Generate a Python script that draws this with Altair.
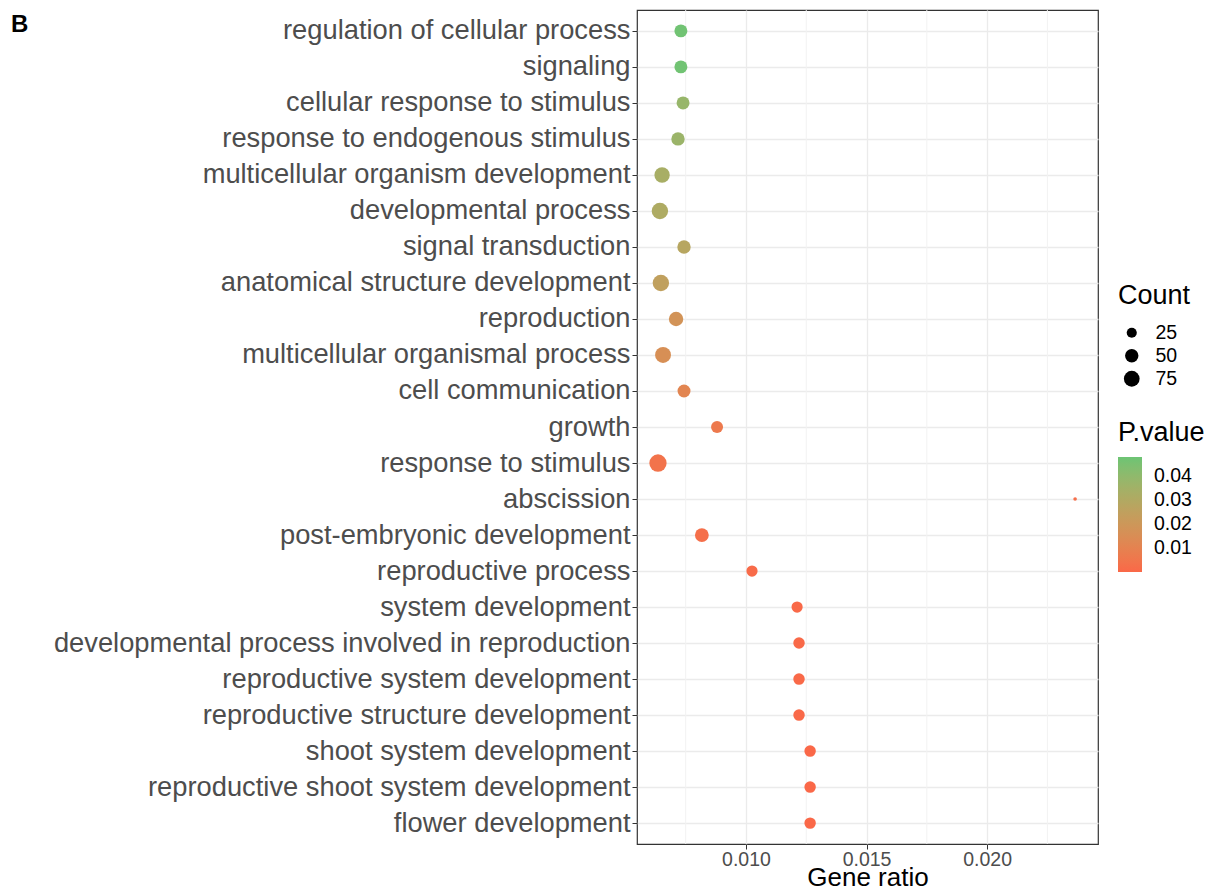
import altair as alt
import pandas as pd

terms = [
    "regulation of cellular process",
    "signaling",
    "cellular response to stimulus",
    "response to endogenous stimulus",
    "multicellular organism development",
    "developmental process",
    "signal transduction",
    "anatomical structure development",
    "reproduction",
    "multicellular organismal process",
    "cell communication",
    "growth",
    "response to stimulus",
    "abscission",
    "post-embryonic development",
    "reproductive process",
    "system development",
    "developmental process involved in reproduction",
    "reproductive system development",
    "reproductive structure development",
    "shoot system development",
    "reproductive shoot system development",
    "flower development",
]
gene_ratio = [0.0073, 0.0073, 0.00739, 0.00718, 0.00652, 0.00643, 0.00743, 0.00647,
              0.0071, 0.00656, 0.00743, 0.0088, 0.00635, 0.02365, 0.00817, 0.01025,
              0.01212, 0.0122, 0.0122, 0.0122, 0.01266, 0.01266, 0.01266]
counts = [46, 46, 46, 50, 71, 83, 50, 83, 60, 77, 46, 38, 95, 2, 54, 32,
          32, 34, 34, 34, 34, 34, 34]
p_values = [0.047, 0.047, 0.038, 0.037, 0.033, 0.031, 0.028, 0.025, 0.018, 0.016,
            0.011, 0.006, 0.004, 0.002, 0.0025, 0.001, 0.0004, 0.0003, 0.0003,
            0.0003, 0.0001, 0.0001, 0.00005]
x_minor = [0.0075, 0.0125, 0.0175, 0.0225]
x_ticks = [0.010, 0.015, 0.020]
count_breaks = [25, 50, 75]
p_breaks = [0.01, 0.02, 0.03, 0.04]
panel = ["B"]

df = pd.DataFrame({"term": terms, "GeneRatio": gene_ratio, "Count": counts, "Pvalue": p_values})
minor_df = pd.DataFrame({"x": x_minor})
panel_df = pd.DataFrame({"label": panel})

FONT = "Liberation Sans"
xdom = [0.00548, 0.0246]

xscale = alt.Scale(domain=xdom, nice=False, zero=False)

minor = alt.Chart(minor_df).mark_rule(color="#F2F2F2", strokeWidth=1).encode(
    x=alt.X("x:Q", scale=xscale)
)

points = alt.Chart(df).mark_circle(opacity=1).encode(
    x=alt.X("GeneRatio:Q", scale=xscale, title="Gene ratio",
            axis=alt.Axis(values=x_ticks, format=".3f", labelFontSize=19.5, labelColor="#4D4D4D",
                          titleFontSize=26, titleColor="black", titleFontWeight="normal",
                          titleY=41, titleBaseline="alphabetic",
                          tickColor="#333333", tickSize=5, domain=False,
                          gridColor="#EBEBEB", gridWidth=1.3, labelPadding=1)),
    y=alt.Y("term:N", sort=terms, title=None,
            scale=alt.Scale(type="point", padding=0.58),
            axis=alt.Axis(labelFontSize=27.3, labelColor="#4D4D4D", tickColor="#333333",
                          tickSize=5, domain=False, grid=True, gridColor="#EBEBEB",
                          gridWidth=1.3, labelPadding=2, labelLimit=800)),
    size=alt.Size("Count:Q",
                  scale=alt.Scale(type="pow", exponent=0.8, domain=[2, 95], range=[13, 300],
                                  zero=False),
                  legend=alt.Legend(values=count_breaks, orient="none", legendX=481, legendY=273,
                                    titleFontSize=27, titleFontWeight="normal", titleColor="black",
                                    labelFontSize=19.5, labelColor="black",
                                    symbolFillColor="black", symbolStrokeWidth=0,
                                    symbolType="circle", rowPadding=2, titlePadding=13,
                                    symbolOffset=4, labelOffset=14)),
    color=alt.Color("Pvalue:Q", title="P.value",
                    scale=alt.Scale(range=["#FA6848", "#6CC474"], interpolate="lab",
                                    domain=[0.00005, 0.048]),
                    legend=alt.Legend(values=p_breaks, format=".2f", orient="none",
                                      legendX=481, legendY=410, gradientLength=115,
                                      gradientThickness=24, titleFontSize=27,
                                      titleFontWeight="normal", titleColor="black",
                                      labelFontSize=19.5, labelColor="black", labelOverlap=False,
                                      gradientStrokeWidth=0, titlePadding=10, labelOffset=12)),
    order=alt.Order("Count:Q"),
)

label = alt.Chart(panel_df).mark_text(fontSize=24, fontWeight="bold", align="left",
                                      baseline="alphabetic", font=FONT, color="black").encode(
    text="label:N", x=alt.value(-626), y=alt.value(22)
)

chart = alt.layer(minor, points, label).properties(
    width=461, height=834,
    autosize=alt.AutoSizeParams(type="none"),
    padding={"left": 629, "top": 2, "right": 108, "bottom": 44},
).configure(font=FONT).configure_view(stroke="#333333", strokeWidth=1.2)

chart.save("out.html", embed_options={"renderer": "svg", "actions": False})
